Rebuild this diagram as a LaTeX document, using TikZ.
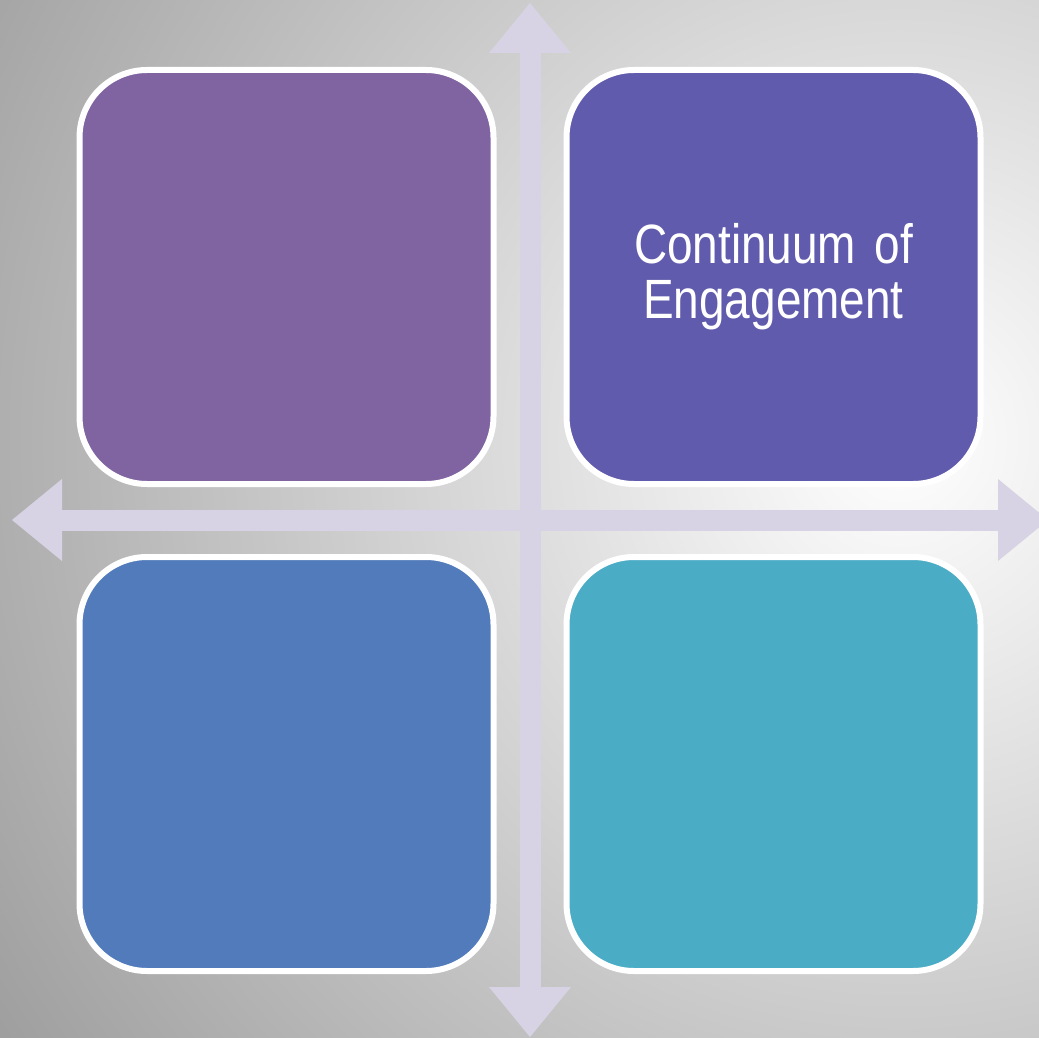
\documentclass[tikz,border=0pt]{standalone}
\usepackage{fontspec}
\setmainfont{Liberation Sans}
\newfontfamily\narrowsans{Liberation Sans}[FakeStretch=0.83,WordSpace=0.4]
\usepackage{tikz}
\usetikzlibrary{arrows.meta}
\definecolor{quadpurple}{RGB}{128,100,162}
\definecolor{quadindigo}{RGB}{96,91,173}
\definecolor{quadblue}{RGB}{81,123,187}
\definecolor{quadaqua}{RGB}{75,172,198}
\definecolor{axiscol}{RGB}{216,211,228}
\tikzstyle{quad} = [rectangle, rounded corners=1.35cm, draw=white, line width=0.12cm,
    minimum size=8.28cm, inner sep=0pt, text width=7.5cm, text centered, text=white,
    font=\narrowsans\fontsize{31.5}{31.3}\selectfont]
\tikzstyle{axis} = [draw=axiscol, line width=0.42cm,
    {Triangle[width=1.64cm,length=1cm,line width=0pt]}-{Triangle[width=1.64cm,length=1cm,line width=0pt]}]

\begin{document}
\begin{tikzpicture}[node distance=9.74cm]

    \useasboundingbox (0,0) rectangle (20.78,-20.76);
    \begin{scope}
      \clip (0,0) rectangle (20.78,-20.76);
      \shade[inner color=white, outer color=black!42] (18,-8.8) circle (24cm);
    \end{scope}

    % Axes
    \coordinate (west) at (0.24,-10.4);
    \coordinate (east) at (20.96,-10.4);
    \coordinate (north) at (10.6,-0.06);
    \coordinate (south) at (10.6,-20.74);
    \path [axis] (west) -- (east);
    \path [axis] (north) -- (south);

    \node [quad, fill=quadpurple] (tl) at (5.73,-5.54) {};
    \node [quad, fill=quadindigo, right of=tl] (tr) {Continuum of\\Engagement};
    \node [quad, fill=quadblue, below of=tl] (bl) {};
    \node [quad, fill=quadaqua, right of=bl] (br) {};

\end{tikzpicture}
\end{document}
